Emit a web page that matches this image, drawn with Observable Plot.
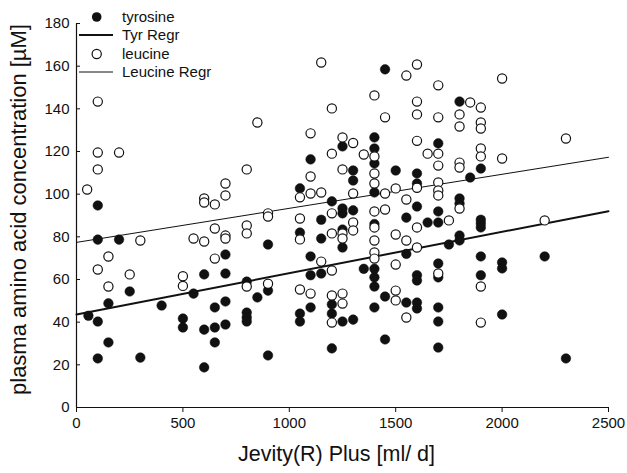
<!DOCTYPE html>
<html>
<head>
<meta charset="utf-8">
<script src="https://cdn.jsdelivr.net/npm/d3@7"></script>
<script src="https://cdn.jsdelivr.net/npm/@observablehq/plot@0.6"></script>
<style>
  html, body { margin: 0; padding: 0; background: #fff; }
  #wrap { position: relative; width: 627px; height: 473px; font-family: "Liberation Sans", Arial, sans-serif; }
  #legend { position: absolute; left: 0; top: 0; pointer-events: none; }
</style>
</head>
<body>
<div id="wrap"></div>
<script>
const xTicks = [0, 500, 1000, 1500, 2000, 2500];
const yTicks = [0, 20, 40, 60, 80, 100, 120, 140, 160, 180];
const xTitle = "Jevity(R) Plus [ml/ d]";
const yTitle = "plasma amino acid concentration [µM]";
const legendLabels = ["tyrosine", "Tyr Regr", "leucine", "Leucine Regr"];

// [Jevity ml/d, concentration µM]
const tyrosine = [
  [56,43],
  [100,94.7],[100,78.7],[100,40.3],[100,23],
  [150,48.8],[150,30.5],
  [200,78.7],
  [250,54.4],
  [300,23.4],
  [400,47.8],
  [500,41.7],[500,37.5],
  [550,53.4],
  [600,62.4],[600,36.5],[600,18.8],
  [650,46.9],[650,37.5],[650,30.5],
  [700,71.7],[700,62.8],[700,49.7],[700,38.9],
  [800,59],[800,44.5],[800,42.2],[800,40.3],
  [850,51.6],
  [900,76.4],[900,54.8],[900,24.4],
  [1050,102.7],[1050,82],[1050,44],[1050,40.3],
  [1100,116.3],[1100,70.8],[1100,62],[1100,46.9],
  [1150,88],[1150,79.2],[1150,62.8],
  [1200,96.6],[1200,48.3],[1200,44],[1200,27.7],
  [1250,122.4],[1250,93.3],[1250,91],[1250,83.4],[1250,75],[1250,40.3],
  [1300,111.1],[1300,106.4],[1300,92.4],[1300,41.2],
  [1350,65],
  [1400,126.6],[1400,121.4],[1400,114.4],[1400,100.8],[1400,86],[1400,65],[1400,61],[1400,56.7],[1400,46.9],
  [1450,158.5],[1450,52],[1450,31.9],
  [1500,111.1],
  [1550,89],[1550,72],[1550,49.2],
  [1600,109.7],[1600,105],[1600,94.2],[1600,62],[1600,59.5],[1600,49.2],[1600,46.4],
  [1650,86.7],
  [1700,123.8],[1700,91.9],[1700,86.7],[1700,67.5],[1700,61],[1700,46.9],[1700,40.3],[1700,28.1],
  [1750,76.4],
  [1800,143.4],[1800,98],[1800,95.6],[1800,80.6],[1800,78.3],
  [1850,107.8],
  [1900,112],[1900,88],[1900,86.3],[1900,84.4],[1900,70.8],[1900,62],
  [2000,68],[2000,65.2],[2000,43.6],
  [2200,70.8],
  [2300,23]
];

const leucine = [
  [50,102.2],
  [100,143.4],[100,119.5],[100,111.6],[100,64.7],
  [150,70.8],[150,56.7],
  [200,119.5],
  [250,62.4],
  [300,78.3],
  [500,61.5],[500,57],
  [550,79.2],
  [600,98],[600,96.1],[600,77.8],
  [650,95.2],[650,83.9],[650,69.8],
  [700,105],[700,99.4],[700,80.6],[700,79.2],
  [800,111.6],[800,85.3],[800,81.6],[800,56.7],
  [850,133.6],
  [900,91],[900,89.5],[900,58],
  [1050,98.5],[1050,88.6],[1050,78.8],[1050,55.3],
  [1100,128.5],[1100,108.3],[1100,100.3],[1100,53.4],
  [1150,161.7],[1150,100.8],[1150,68.4],
  [1200,140.2],[1200,119],[1200,91],[1200,81.6],[1200,64.2],[1200,52.5],[1200,39.8],
  [1250,126.6],[1250,111.6],[1250,81.6],[1250,79.2],[1250,53.4],[1250,48.7],
  [1300,124],[1300,100.3],[1300,86.7],[1300,83],
  [1350,118.6],
  [1400,146.3],[1400,117.7],[1400,109.7],[1400,105],[1400,91.9],[1400,84.4],[1400,78.3],[1400,72.7],[1400,69.8],
  [1450,136],[1450,100.3],[1450,92.8],
  [1500,102.7],[1500,81.1],[1500,67],[1500,54.8],[1500,50.2],
  [1550,155.6],[1550,97.5],[1550,78.3],[1550,42.2],
  [1600,160.8],[1600,143.4],[1600,137.4],[1600,125],[1600,103],[1600,84.4],[1600,75],
  [1650,119],
  [1700,151],[1700,136],[1700,119],[1700,113.4],[1700,105.5],[1700,101.7],[1700,99.4],[1700,62.8],
  [1750,87.7],
  [1800,137.4],[1800,131.7],[1800,114.8],[1800,112.5],[1800,93.3],
  [1850,143],
  [1900,140.6],[1900,133.6],[1900,130.8],[1900,121.4],[1900,117.7],[1900,56.7],[1900,39.8],
  [2000,154.2],[2000,116.7],
  [2200,87.7],
  [2300,126.1]
];

// regression lines: values at x = 0 and x = 2500
const regrX = [0, 2500];
const tyrRegrY = [43.6, 92.0];
const leuRegrY = [77.4, 117.3];
const tyrRegr = regrX.map((x, i) => ({x, y: tyrRegrY[i]}));
const leuRegr = regrX.map((x, i) => ({x, y: leuRegrY[i]}));

const INK = "#111";
const chart = Plot.plot({
  width: 627,
  height: 473,
  marginLeft: 76,
  marginRight: 19,
  marginTop: 23,
  marginBottom: 66,
  style: { fontFamily: "'Liberation Sans', Arial, sans-serif", fontSize: "15px", color: INK, background: "#fff", overflow: "visible" },
  x: { domain: d3.extent(xTicks) },
  y: { domain: d3.extent(yTicks) },
  marks: [
    Plot.axisX({ ticks: xTicks, tickSize: 5, tickPadding: 5, label: null, fontSize: 15, tickFormat: d => String(d) }),
    Plot.axisY({ ticks: yTicks, tickSize: -4, tickPadding: 11, label: null, fontSize: 15, tickFormat: d => String(d) }),
    Plot.ruleX([0], { stroke: INK, strokeWidth: 1.2 }),
    Plot.ruleY([0], { stroke: INK, strokeWidth: 1.2 }),
    Plot.line(leuRegr, { x: "x", y: "y", stroke: INK, strokeWidth: 1 }),
    Plot.line(tyrRegr, { x: "x", y: "y", stroke: INK, strokeWidth: 2 }),
    Plot.dot(tyrosine, { x: d => d[0], y: d => d[1], r: 4.8, fill: INK, stroke: INK, strokeWidth: 0.5 }),
    Plot.dot(leucine, { x: d => d[0], y: d => d[1], r: 4.6, fill: "#fff", stroke: INK, strokeWidth: 1.2 }),
    Plot.text([xTitle], { frameAnchor: "bottom", dy: 53, dx: -6, fontSize: 21.5, fill: INK }),
    Plot.text([yTitle], { frameAnchor: "left", textAnchor: "middle", rotate: -90, dx: -58, dy: -6, fontSize: 22, fill: INK })
  ]
});

const wrap = document.getElementById("wrap");
wrap.appendChild(chart);

// legend (top-left, inside the frame)
const lg = d3.select(wrap).append("svg").attr("id", "legend").attr("width", 260).attr("height", 90)
  .style("font-family", "'Liberation Sans', Arial, sans-serif").style("font-size", "15px");
const rows = [17, 35, 54, 72];
lg.append("circle").attr("cx", 96.7).attr("cy", rows[0]).attr("r", 4.8).attr("fill", INK);
lg.append("line").attr("x1", 79).attr("x2", 113).attr("y1", rows[1]).attr("y2", rows[1]).attr("stroke", INK).attr("stroke-width", 2);
lg.append("circle").attr("cx", 96.7).attr("cy", rows[2]).attr("r", 4.6).attr("fill", "#fff").attr("stroke", INK).attr("stroke-width", 1.2);
lg.append("line").attr("x1", 79).attr("x2", 113).attr("y1", rows[3]).attr("y2", rows[3]).attr("stroke", INK).attr("stroke-width", 1);
legendLabels.forEach((t, i) => {
  lg.append("text").attr("x", 122).attr("y", rows[i]).attr("dy", "0.35em").attr("fill", INK).text(t);
});
</script>
</body>
</html>
